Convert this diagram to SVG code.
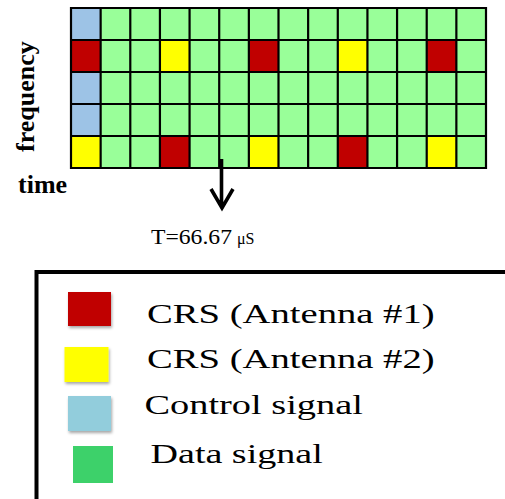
<svg xmlns="http://www.w3.org/2000/svg" width="505" height="499" viewBox="0 0 505 499">
<style>
.ax{font-family:"Liberation Serif","Times New Roman",serif;font-weight:bold;font-size:26px;fill:#000}
.lg{font-family:"Liberation Serif","Times New Roman",serif;font-size:28px;fill:#000}
.tm{font-family:"Liberation Serif","Times New Roman",serif;fill:#000}
.gl{stroke:#000;stroke-width:2.2;fill:none}
.bl{fill:#9DC3E6}.rd{fill:#C00000}.ye{fill:#FFFF00}.gr{fill:#99FF99}
</style>
<defs>
<filter id="sh" x="-20%" y="-20%" width="150%" height="150%">
<feDropShadow dx="1" dy="2" stdDeviation="1.5" flood-color="#000" flood-opacity="0.35"/>
</filter>
</defs>
<rect width="505" height="499" fill="#fff"/>
<g id="grid">
<rect class="gr" x="71" y="8" width="415" height="160"/>
<rect class="bl" x="71" y="8" width="29.64" height="32"/>
<rect class="rd" x="71" y="40" width="29.64" height="32"/>
<rect class="bl" x="71" y="72" width="29.64" height="32"/>
<rect class="bl" x="71" y="104" width="29.64" height="32"/>
<rect class="ye" x="71" y="136" width="29.64" height="32"/>
<rect class="ye" x="159.93" y="40" width="29.64" height="32"/>
<rect class="rd" x="248.86" y="40" width="29.64" height="32"/>
<rect class="ye" x="337.79" y="40" width="29.64" height="32"/>
<rect class="rd" x="426.71" y="40" width="29.64" height="32"/>
<rect class="rd" x="159.93" y="136" width="29.64" height="32"/>
<rect class="ye" x="248.86" y="136" width="29.64" height="32"/>
<rect class="rd" x="337.79" y="136" width="29.64" height="32"/>
<rect class="ye" x="426.71" y="136" width="29.64" height="32"/>
<path class="gl" d="M71 8H486V168H71Z M71 40H486 M71 72H486 M71 104H486 M71 136H486 M100.64 8V168 M130.29 8V168 M159.93 8V168 M189.57 8V168 M219.21 8V168 M248.86 8V168 M278.5 8V168 M308.14 8V168 M337.79 8V168 M367.43 8V168 M397.07 8V168 M426.71 8V168 M456.36 8V168"/>
</g>
<g id="axis-labels">
<text class="ax" transform="translate(33.5,152) rotate(-90)">frequency</text>
<text class="ax" x="18" y="193" font-size="25">time</text>
</g>
<g id="connectors">
<path d="M221.5 159V207 M211 189L222 208L233 189" stroke="#000" stroke-width="3.6" fill="none"/>
</g>
<g id="period-label">
<text class="tm" transform="translate(151,244) scale(1.1,1)" font-size="21.5">T=66.67</text>
<text class="tm" x="237" y="244" font-size="16">μS</text>
</g>
<g id="legend">
<rect x="36.5" y="272" width="520" height="260" fill="none" stroke="#000" stroke-width="4"/>
<g id="legend-crs1">
<rect x="68" y="292" width="43" height="34" fill="#C00000" filter="url(#sh)"/>
<text class="lg" transform="translate(147,323) scale(1.38,1)">CRS (Antenna #1)</text>
</g>
<g id="legend-crs2">
<rect x="64.5" y="347" width="44" height="35" fill="#FFFF00" filter="url(#sh)"/>
<text class="lg" transform="translate(147,368) scale(1.38,1)">CRS (Antenna #2)</text>
</g>
<g id="legend-control">
<rect x="68" y="396" width="43" height="35" fill="#92CDDC" filter="url(#sh)"/>
<text class="lg" transform="translate(144.5,414) scale(1.37,1)">Control signal</text>
</g>
<g id="legend-data">
<rect x="73" y="446" width="40" height="37" fill="#3DD16A"/>
<text class="lg" transform="translate(150.5,462.5) scale(1.36,1)">Data signal</text>
</g>
</g>
</svg>
